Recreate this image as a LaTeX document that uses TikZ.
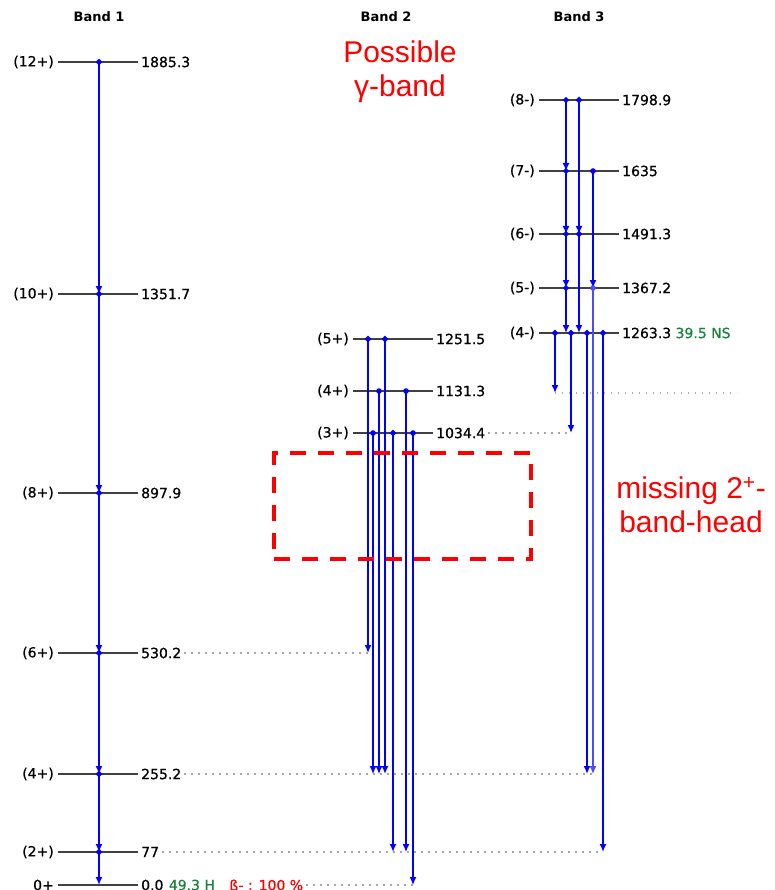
\documentclass[tikz,border=0pt]{standalone}
\usepackage{fontspec}
\setmainfont{DejaVu Sans}
\newfontfamily\lvlfamily[FakeBold=0.7]{DejaVu Sans}
\newfontfamily\notefamily{Liberation Sans}
\usetikzlibrary{
    positioning,
    arrows.meta,
    calc
}
\definecolor{halfgreen}{RGB}{25,130,60}
\newcommand{\lvlfont}{\lvlfamily\fontsize{14}{16}\selectfont}
\newcommand{\bandfont}{\bfseries\fontsize{13}{15}\selectfont}
\newcommand{\notefont}{\notefamily\fontsize{30}{34}\selectfont}

\begin{document}
\begin{tikzpicture}[x=1pt, y=-1pt,
    lvl/.style={draw=black!75, line width=1.4pt},
    spin/.style={font=\lvlfont, anchor=east, inner xsep=4pt, inner ysep=1pt},
    ener/.style={font=\lvlfont, inner xsep=3pt, inner ysep=1pt},
    bandlbl/.style={font=\bandfont},
    gam/.style={blue, {Circle[length=5.5pt]}-{Latex[length=8pt,width=7pt]}, shorten <=-2.75pt},
    gthick/.style={gam, line width=2.7pt},
    gmid/.style={gam, line width=1.9pt},
    gthin/.style={gam, line width=1.3pt},
    guide/.style={gray!70, line width=1.1pt, dash pattern=on 1.3pt off 5.7pt},
    note/.style={text=red, font=\notefont, align=center},
    gapbox/.style={draw=red, line width=3.5pt, dash pattern=on 16pt off 12pt,
        minimum width=257pt, minimum height=106pt, inner sep=0pt}
]
\useasboundingbox (0,0) rectangle (775,890);

% line length of a level
\def\lw{80pt}

% ============================== BAND 1 ==============================
\node[bandlbl] (band1) at (99,17) {Band 1};
\node[spin] (s1885) at (58,62) {(12+)};
\node[ener, right=\lw of s1885] (e1885) {1885.3};
\node[spin] (s1351) at (58,294) {(10+)};
\node[ener, right=\lw of s1351] (e1351) {1351.7};
\node[spin] (s897) at (58,493) {(8+)};
\node[ener, right=\lw of s897] (e897) {897.9};
\node[spin] (s530) at (58,653) {(6+)};
\node[ener, right=\lw of s530] (e530) {530.2};
\node[spin] (s255) at (58,774) {(4+)};
\node[ener, right=\lw of s255] (e255) {255.2};
\node[spin] (s77) at (58,852) {(2+)};
\node[ener, right=\lw of s77] (e77) {77};
\node[spin] (s0) at (58,885) {0+};
\node[ener, right=\lw of s0] (e0) {0.0};
\node[ener, right=-1pt of e0, text=halfgreen] (life0) {49.3 H};
\node[ener, right=8pt of life0, text=red] (decay0) {ß- : 100 \%};

\foreach \lev in {1885,1351,897,530,255,77,0}
    \draw[lvl] (s\lev.east) -- (e\lev.west);

% ============================== BAND 2 ==============================
\node[bandlbl] (band2) at (386,17) {Band 2};
\node[spin] (s1251) at (353,339) {(5+)};
\node[ener, right=\lw of s1251] (e1251) {1251.5};
\node[spin] (s1131) at (353,391) {(4+)};
\node[ener, right=\lw of s1131] (e1131) {1131.3};
\node[spin] (s1034) at (353,433) {(3+)};
\node[ener, right=\lw of s1034] (e1034) {1034.4};

\foreach \lev in {1251,1131,1034}
    \draw[lvl] (s\lev.east) -- (e\lev.west);

% ============================== BAND 3 ==============================
\node[bandlbl] (band3) at (579,17) {Band 3};
\node[spin] (s1798) at (539,100) {(8-)};
\node[ener, right=\lw of s1798] (e1798) {1798.9};
\node[spin] (s1635) at (539,171) {(7-)};
\node[ener, right=\lw of s1635] (e1635) {1635};
\node[spin] (s1491) at (539,234) {(6-)};
\node[ener, right=\lw of s1491] (e1491) {1491.3};
\node[spin] (s1367) at (539,288) {(5-)};
\node[ener, right=\lw of s1367] (e1367) {1367.2};
\node[spin] (s1263) at (539,333) {(4-)};
\node[ener, right=\lw of s1263] (e1263) {1263.3};
\node[ener, right=-2pt of e1263, text=halfgreen] (life1263) {39.5 NS};

\foreach \lev in {1798,1635,1491,1367,1263}
    \draw[lvl] (s\lev.east) -- (e\lev.west);

% free end of the lowest band 3 line
\coordinate (ghost) at (555,393);
\coordinate (ghostend) at (737,393);

% ============================== GUIDE LINES ==============================
\draw[guide] (e530.east) -- (368,0 |- s530);
\draw[guide] (e255.east) -- (592,0 |- s255);
\draw[guide] (e77.east) -- (603,0 |- s77);
\draw[guide] (decay0.east) -- (413,0 |- s0);
\draw[guide] (e1034.east) -- (571,0 |- s1034);
\draw[guide] (ghost) -- (ghostend);

% ============================== TRANSITIONS ==============================
% band 1 cascade
\draw[gthick] (99,0 |- s1885) -- (99,0 |- s1351);
\draw[gthick] (99,0 |- s1351) -- (99,0 |- s897);
\draw[gthick] (99,0 |- s897) -- (99,0 |- s530);
\draw[gthick] (99,0 |- s530) -- (99,0 |- s255);
\draw[gthick] (99,0 |- s255) -- (99,0 |- s77);
\draw[gthick] (99,0 |- s77) -- (99,0 |- s0);

% band 2 out
\draw[gthick] (368,0 |- s1251) -- (368,0 |- s530);
\draw[gthick] (385,0 |- s1251) -- (385,0 |- s255);
\draw[gthin] (379,0 |- s1131) -- (379,0 |- s255);
\draw[gthin] (406,0 |- s1131) -- (406,0 |- s77);
\draw[gthin] (373,0 |- s1034) -- (373,0 |- s255);
\draw[gthick] (393,0 |- s1034) -- (393,0 |- s77);
\draw[gthin] (413,0 |- s1034) -- (413,0 |- s0);

% band 3 in-band
\draw[gmid] (566,0 |- s1798) -- (566,0 |- s1635);
\draw[gthick] (579,0 |- s1798) -- (579,0 |- s1491);
\draw[gmid] (566,0 |- s1635) -- (566,0 |- s1491);
\draw[gthin] (593,0 |- s1635) -- (593,0 |- s1367);
\draw[gmid] (566,0 |- s1491) -- (566,0 |- s1367);
\draw[gthick] (579,0 |- s1491) -- (579,0 |- s1263);
\draw[gmid] (566,0 |- s1367) -- (566,0 |- s1263);

% band 3 out
\draw[gthin, blue!70] (593,0 |- s1367) -- (593,0 |- s255);
\draw[gthick] (555,0 |- s1263) -- (ghost);
\draw[gthick] (571,0 |- s1263) -- (571,0 |- s1034);
\draw[gthick] (587,0 |- s1263) -- (587,0 |- s255);
\draw[gthick] (603,0 |- s1263) -- (603,0 |- s77);

% ============================== NOTES ==============================
\node[note] (gband) at (400,72) {Possible\\γ-band};
\node[note] (nohead) at (691,505) {missing 2\textsuperscript{+}-\\band-head};
\node[gapbox] (gap) at (402.5,506) {};

\end{tikzpicture}
\end{document}
